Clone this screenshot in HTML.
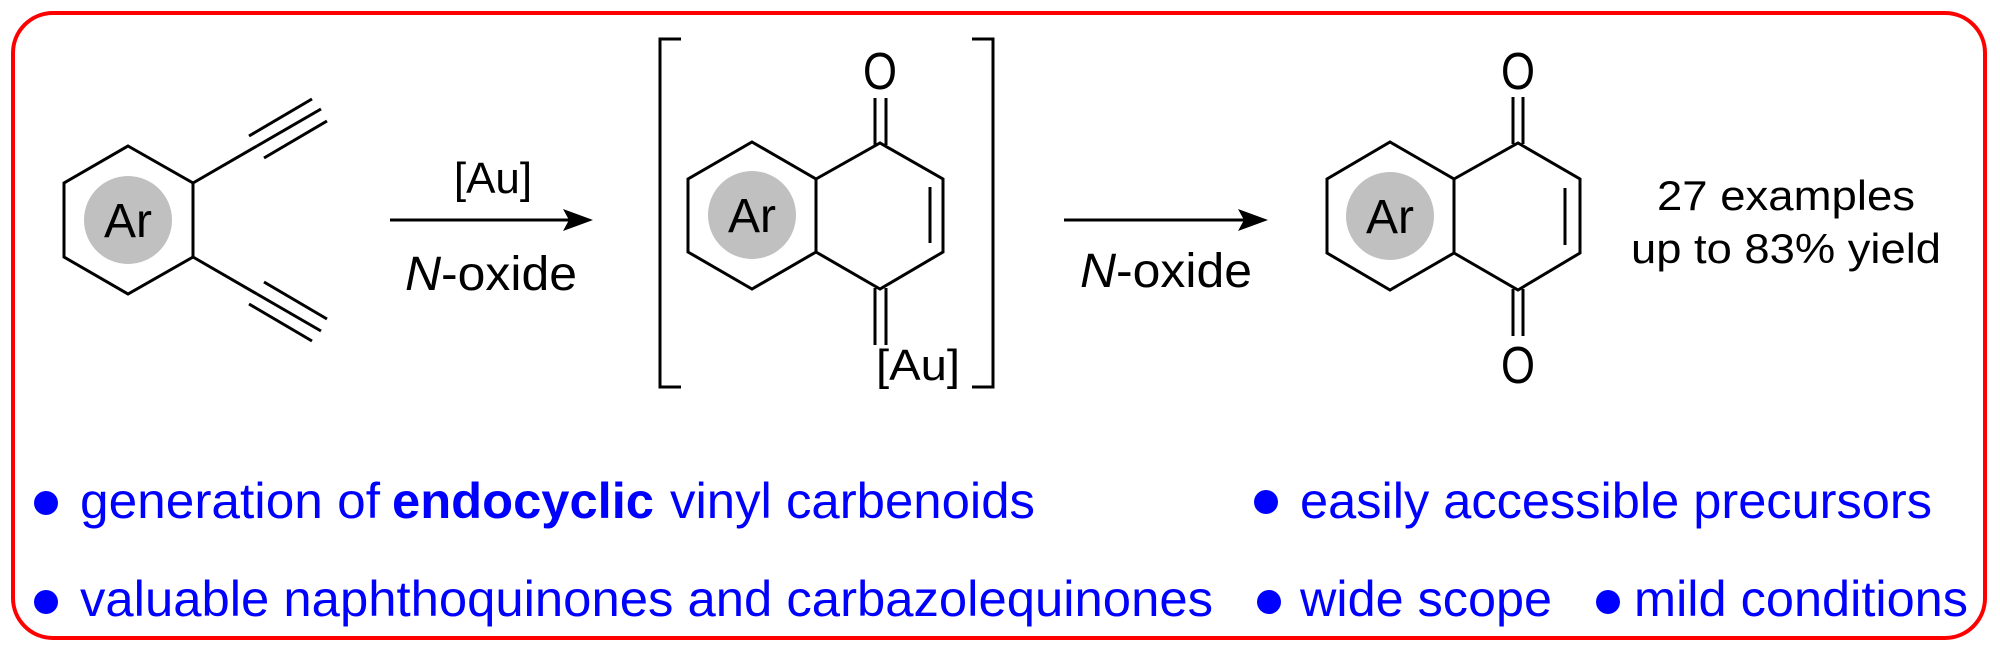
<!DOCTYPE html>
<html><head><meta charset="utf-8"><style>
html,body{margin:0;padding:0;background:#fff;}
svg{display:block;}
text{font-family:"Liberation Sans",Arial,sans-serif;}
</style></head><body>
<svg width="2000" height="653" viewBox="0 0 2000 653" xmlns="http://www.w3.org/2000/svg">
<rect x="13" y="13" width="1972" height="625" rx="40" ry="40" fill="#fff" stroke="#f00" stroke-width="4"/>
<g stroke="#000" stroke-width="3" fill="none" stroke-linecap="butt" stroke-linejoin="miter">
<polygon points="128,146 193,183 193,257 128,294 64,257 64,183"/>
<line x1="193" y1="183" x2="257" y2="146"/>
<line x1="257" y1="146" x2="321" y2="109"/>
<line x1="249" y1="136" x2="312" y2="99"/>
<line x1="264" y1="158" x2="327" y2="121"/>
<line x1="193" y1="257" x2="257" y2="294"/>
<line x1="257" y1="294" x2="321" y2="331"/>
<line x1="249" y1="304" x2="312" y2="341"/>
<line x1="264" y1="282" x2="327" y2="319"/>
<line x1="390" y1="220" x2="570" y2="220"/>
<polygon points="752,142 816,179 816,252 752,289 688,252 688,179"/>
<polyline points="816,179 880,143 943,179 943,252 880,289 816,252"/>
<line x1="930" y1="187" x2="930" y2="243"/>
<line x1="875" y1="98" x2="875" y2="145"/>
<line x1="886" y1="98" x2="886" y2="145"/>
<line x1="875" y1="288" x2="875" y2="345"/>
<line x1="886" y1="288" x2="886" y2="345"/>
<polyline points="681,39 660,39 660,387 681,387"/>
<polyline points="972,39 993,39 993,387 972,387"/>
<line x1="1064" y1="220" x2="1245" y2="220"/>
<polygon points="1390,142 1454,179 1454,253 1390,290 1327,253 1327,179"/>
<polyline points="1454,179 1518,143 1580,179 1580,253 1518,290 1454,253"/>
<line x1="1565" y1="188" x2="1565" y2="245"/>
<line x1="1513" y1="97" x2="1513" y2="144"/>
<line x1="1523" y1="97" x2="1523" y2="144"/>
<line x1="1513" y1="289" x2="1513" y2="336"/>
<line x1="1523" y1="289" x2="1523" y2="336"/>
</g>
<polygon points="593,220 563,209 569,220 563,231" fill="#000"/>
<polygon points="1268,220 1238,209 1244,220 1238,231" fill="#000"/>
<g fill="#c0c0c0">
<circle cx="128" cy="220" r="44"/>
<circle cx="752" cy="215" r="44"/>
<circle cx="1390" cy="216" r="44"/>
</g>
<g fill="#000" text-anchor="middle">
<text x="128" y="237" font-size="48">Ar</text>
<text x="752" y="232" font-size="48">Ar</text>
<text x="1390" y="233" font-size="48">Ar</text>
<text x="493" y="193" font-size="44">[Au]</text>
<text x="491" y="290" font-size="48" textLength="172" lengthAdjust="spacingAndGlyphs"><tspan font-style="italic">N</tspan>-oxide</text>
<text x="1166" y="287" font-size="48" textLength="172" lengthAdjust="spacingAndGlyphs"><tspan font-style="italic">N</tspan>-oxide</text>
<text x="880" y="89" font-size="52" textLength="34" lengthAdjust="spacingAndGlyphs">O</text>
<text x="1518" y="89" font-size="52" textLength="34" lengthAdjust="spacingAndGlyphs">O</text>
<text x="1518" y="383" font-size="52" textLength="34" lengthAdjust="spacingAndGlyphs">O</text>
<text x="918" y="380" font-size="44" textLength="84" lengthAdjust="spacingAndGlyphs">[Au]</text>
<text x="1786" y="210" font-size="42" textLength="258" lengthAdjust="spacingAndGlyphs">27 examples</text>
<text x="1786" y="263" font-size="42" textLength="310" lengthAdjust="spacingAndGlyphs">up to 83% yield</text>
</g>
<g fill="#00f">
<circle cx="46" cy="503" r="12"/>
<circle cx="46" cy="602" r="12"/>
<circle cx="1266" cy="502" r="12"/>
<circle cx="1269" cy="602" r="12"/>
<circle cx="1608" cy="602" r="12"/>
</g>
<g fill="#00f" font-size="50">
<text x="80" y="518" textLength="300" lengthAdjust="spacingAndGlyphs">generation of</text>
<text x="392" y="518" font-weight="bold" textLength="262" lengthAdjust="spacingAndGlyphs">endocyclic</text>
<text x="670" y="518" textLength="365" lengthAdjust="spacingAndGlyphs">vinyl carbenoids</text>
<text x="80" y="616" textLength="1133" lengthAdjust="spacingAndGlyphs">valuable naphthoquinones and carbazolequinones</text>
<text x="1300" y="518" textLength="632" lengthAdjust="spacingAndGlyphs">easily accessible precursors</text>
<text x="1300" y="616" textLength="252" lengthAdjust="spacingAndGlyphs">wide scope</text>
<text x="1634" y="616" textLength="334" lengthAdjust="spacingAndGlyphs">mild conditions</text>
</g>
</svg>
</body></html>
